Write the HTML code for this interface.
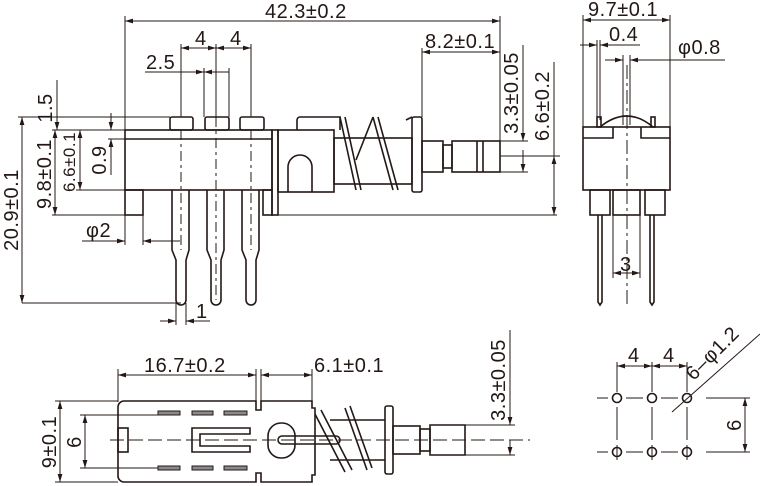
<!DOCTYPE html>
<html><head><meta charset="utf-8"><style>
html,body{margin:0;padding:0;background:#fff;}
svg{display:block;}
text{font-family:"Liberation Sans",sans-serif;font-size:20px;fill:#231815;letter-spacing:0.5px;}
</style></head><body>
<svg width="760" height="486" viewBox="0 0 760 486" xmlns="http://www.w3.org/2000/svg">
<defs>
<marker id="a" viewBox="0 0 10 6" refX="10" refY="3" markerWidth="8" markerHeight="5" orient="auto-start-reverse" markerUnits="userSpaceOnUse"><path d="M0,0L10,3L0,6z" fill="#231815"/></marker>
</defs>
<g stroke="#231815" fill="none" stroke-width="1">
<line x1="125" y1="21" x2="500" y2="21" marker-start="url(#a)" marker-end="url(#a)"/>
<line x1="125" y1="16" x2="125" y2="130"/>
<line x1="500" y1="16" x2="500" y2="141"/>
<line x1="181" y1="44" x2="181" y2="117"/><line x1="216" y1="44" x2="216" y2="117"/><line x1="251" y1="44" x2="251" y2="117"/>
<line x1="181" y1="48" x2="216" y2="48" marker-start="url(#a)" marker-end="url(#a)"/>
<line x1="216" y1="48" x2="251" y2="48" marker-start="url(#a)" marker-end="url(#a)"/>
<line x1="204" y1="68" x2="204" y2="117"/><line x1="229" y1="68" x2="229" y2="117"/>
<line x1="145" y1="72" x2="204" y2="72" marker-end="url(#a)"/>
<line x1="204" y1="72" x2="229" y2="72" marker-start="url(#a)"/>
<line x1="18" y1="117" x2="170" y2="117"/>
<line x1="52" y1="130" x2="125" y2="130"/>
<line x1="57" y1="80" x2="57" y2="130" marker-end="url(#a)"/>
<line x1="111" y1="113" x2="111" y2="130" marker-end="url(#a)"/>
<line x1="111" y1="139" x2="111" y2="175" marker-start="url(#a)"/>
<line x1="108" y1="139" x2="125" y2="139"/>
<line x1="22" y1="117" x2="22" y2="303" marker-start="url(#a)" marker-end="url(#a)"/>
<line x1="55" y1="130" x2="55" y2="215" marker-start="url(#a)" marker-end="url(#a)"/>
<line x1="80" y1="130" x2="80" y2="190" marker-start="url(#a)" marker-end="url(#a)"/>
<line x1="76" y1="190" x2="125" y2="190"/>
<line x1="52" y1="215" x2="125" y2="215"/>
<line x1="272" y1="215" x2="557" y2="215"/>
<line x1="22" y1="303" x2="181" y2="303"/>
<line x1="143" y1="215" x2="143" y2="245"/><line x1="125" y1="215" x2="125" y2="245"/>
<line x1="82" y1="241" x2="125" y2="241" marker-end="url(#a)"/>
<line x1="143" y1="241" x2="180" y2="241" marker-start="url(#a)"/>
<line x1="176" y1="303" x2="176" y2="325"/><line x1="186" y1="303" x2="186" y2="325"/>
<line x1="160" y1="321" x2="176" y2="321" marker-end="url(#a)"/>
<line x1="186" y1="321" x2="210" y2="321" marker-start="url(#a)"/>
<g stroke-width="1.6">
<rect x="125" y="130" width="147" height="60"/>
<line x1="125" y1="139" x2="272" y2="139"/>
<rect x="170" y="117" width="23" height="13" rx="2"/>
<rect x="205" y="117" width="24" height="13" rx="2"/>
<rect x="240" y="117" width="24" height="13" rx="2"/>
<rect x="125" y="190" width="18" height="25"/>
<rect x="263" y="190" width="9" height="25"/>
<rect x="272" y="130" width="6" height="85"/>
<rect x="278" y="130" width="56" height="62"/>
<path d="M288,192V167a12,12 0 0 1 24,0V192"/>
<path d="M297,130V120a3,3 0 0 1 3,-3H340V130"/>
<path d="M172,190V250l4,10V300a5,5 0 0 0 10,0V260l3,-10V190"/>
<path d="M207,190V250l4,10V300a5,5 0 0 0 10,0V260l3,-10V190"/>
<path d="M242,190V250l4,10V300a5,5 0 0 0 10,0V260l3,-10V190"/>
<rect x="334" y="138" width="78" height="46"/>
<path d="M340,117L356,190M345,117L361,190M373,117L393,190M378,117L398,190M373,117L356,160M406,120L412,117"/>
<rect x="412" y="117" width="10" height="75" rx="2"/>
<rect x="422" y="141" width="21" height="31"/>
<rect x="443" y="145" width="9" height="23"/>
<rect x="452" y="141" width="48" height="31"/>
<line x1="477" y1="141" x2="477" y2="172"/><line x1="483" y1="141" x2="483" y2="172"/>
</g>
<g stroke-dasharray="10,4,3,4"><line x1="181" y1="130" x2="181" y2="250"/><line x1="216" y1="117" x2="216" y2="300"/><line x1="251" y1="130" x2="251" y2="250"/></g>
<line x1="422" y1="48" x2="422" y2="117"/>
<line x1="422" y1="52" x2="500" y2="52" marker-start="url(#a)" marker-end="url(#a)"/>
<line x1="500" y1="141" x2="528" y2="141"/><line x1="500" y1="172" x2="528" y2="172"/>
<line x1="523" y1="45" x2="523" y2="141" marker-end="url(#a)"/>
<line x1="523" y1="150" x2="523" y2="172" marker-end="url(#a)"/>
<line x1="500" y1="156" x2="560" y2="156"/>
<line x1="554" y1="62" x2="554" y2="156"/>
<line x1="554" y1="156" x2="554" y2="215" marker-start="url(#a)" marker-end="url(#a)"/>
<line x1="583" y1="15" x2="583" y2="127"/><line x1="670" y1="15" x2="670" y2="127"/>
<line x1="583" y1="20" x2="670" y2="20" marker-start="url(#a)" marker-end="url(#a)"/>
<line x1="597" y1="40" x2="597" y2="120"/><line x1="600" y1="40" x2="600" y2="120"/>
<line x1="580" y1="45" x2="597" y2="45" marker-end="url(#a)"/>
<line x1="600" y1="45" x2="640" y2="45" marker-start="url(#a)"/>
<line x1="623" y1="55" x2="623" y2="125"/><line x1="630" y1="55" x2="630" y2="125"/>
<line x1="605" y1="60" x2="623" y2="60" marker-end="url(#a)"/>
<line x1="630" y1="60" x2="725" y2="60" marker-start="url(#a)"/>
<g stroke-width="1.6">
<rect x="583" y="127" width="87" height="63"/>
<path d="M583,138H613V127M670,138H641V127"/>
<path d="M600,127Q627,105 653,127"/>
<rect x="597" y="117" width="4" height="10"/><rect x="651" y="117" width="4" height="10"/>
<rect x="590" y="190" width="20" height="25"/>
<rect x="613" y="190" width="27" height="25"/>
<rect x="645" y="190" width="20" height="25"/>
<path d="M598,215V302l2,3l2,-3V215M650,215V302l2,3l2,-3V215"/>
</g>
<line x1="627" y1="65" x2="627" y2="305" stroke-dasharray="14,4,3,4"/>
<line x1="613" y1="215" x2="613" y2="278"/><line x1="640" y1="215" x2="640" y2="278"/>
<line x1="613" y1="273" x2="640" y2="273" marker-start="url(#a)" marker-end="url(#a)"/>
<line x1="118" y1="369" x2="118" y2="402"/><line x1="256" y1="369" x2="256" y2="410"/><line x1="261" y1="369" x2="261" y2="410"/><line x1="312" y1="369" x2="312" y2="402"/>
<line x1="118" y1="375" x2="256" y2="375" marker-start="url(#a)" marker-end="url(#a)"/>
<line x1="261" y1="375" x2="312" y2="375" marker-start="url(#a)" marker-end="url(#a)"/>
<line x1="55" y1="401" x2="118" y2="401"/><line x1="55" y1="482" x2="118" y2="482"/>
<line x1="80" y1="415" x2="180" y2="415"/><line x1="80" y1="468" x2="180" y2="468"/>
<line x1="60" y1="401" x2="60" y2="482" marker-start="url(#a)" marker-end="url(#a)"/>
<line x1="85" y1="415" x2="85" y2="468" marker-start="url(#a)" marker-end="url(#a)"/>
<line x1="465" y1="425" x2="515" y2="425"/><line x1="465" y1="455" x2="515" y2="455"/>
<line x1="510" y1="330" x2="510" y2="425" marker-end="url(#a)"/>
<line x1="510" y1="440" x2="510" y2="455" marker-end="url(#a)"/>
<g stroke-width="1.6">
<path d="M124,401H256V410H261V401H312V408H315V475H312V482H261V473H256V482H124a6,6 0 0 1 -6,-6V407a6,6 0 0 1 6,-6z"/>
<rect x="118" y="428" width="10" height="24"/>
<path d="M250,428H192V452H250V446H200V434H250z"/>
<rect x="268" y="423" width="27" height="35" rx="13"/>
<rect x="278" y="436" width="62" height="8" rx="4"/>
<path d="M315,414L345,472M321,410L352,470M345,408L367,470M350,406L372,468M330,420H385M330,460H385"/>
<rect x="385" y="406" width="8" height="68" rx="2"/>
<rect x="393" y="426" width="27" height="28"/>
<rect x="420" y="429" width="10" height="22"/>
<path d="M430,425H465V455H430z"/>
</g>
<g fill="#8a8a8a" stroke-width="1">
<rect x="158" y="411" width="22" height="4"/><rect x="192" y="411" width="21" height="4"/><rect x="224" y="411" width="23" height="4"/>
<rect x="158" y="466" width="22" height="4"/><rect x="192" y="466" width="21" height="4"/><rect x="224" y="466" width="23" height="4"/>
</g>
<line x1="110" y1="440" x2="530" y2="440" stroke-dasharray="14,5"/>
<line x1="617" y1="362" x2="617" y2="392"/><line x1="652" y1="362" x2="652" y2="392"/><line x1="687" y1="362" x2="687" y2="392"/>
<line x1="617" y1="366" x2="652" y2="366" marker-start="url(#a)" marker-end="url(#a)"/>
<line x1="652" y1="366" x2="687" y2="366" marker-start="url(#a)" marker-end="url(#a)"/>
<g stroke-width="1.6"><circle cx="617" cy="398" r="4.5"/><circle cx="652" cy="398" r="4.5"/><circle cx="687" cy="398" r="4.5"/>
<circle cx="617" cy="452" r="4.5"/><circle cx="652" cy="452" r="4.5"/><circle cx="687" cy="452" r="4.5"/></g>
<path d="M597,398H608M626,398H643M661,398H678M706,398H750M597,452H608M626,452H643M661,452H678M706,452H750M617,407V440M652,407V440M687,407V440M617,445V460M652,445V460M687,445V460"/>
<line x1="745" y1="398" x2="745" y2="452" marker-start="url(#a)" marker-end="url(#a)"/>
<line x1="672" y1="412" x2="760" y2="334"/>
</g>
<text x="265" y="18">42.3±0.2</text>
<text x="195" y="45">4</text><text x="230" y="45">4</text>
<text x="146" y="69">2.5</text>
<text x="425" y="48">8.2±0.1</text>
<text x="588" y="16">9.7±0.1</text>
<text x="609" y="41">0.4</text>
<text x="678" y="54">φ0.8</text>
<text x="86" y="237">φ2</text>
<text x="196" y="318">1</text>
<text x="620" y="271">3</text>
<text x="144" y="372">16.7±0.2</text>
<text x="314" y="372">6.1±0.1</text>
<text x="628" y="362">4</text><text x="663" y="362">4</text>
<text transform="translate(52,108) rotate(-90)" text-anchor="middle">1.5</text>
<text transform="translate(18,210) rotate(-90)" text-anchor="middle">20.9±0.1</text>
<text transform="translate(51,174) rotate(-90)" text-anchor="middle">9.8±0.1</text>
<text transform="translate(75,162) rotate(-90)" text-anchor="middle" style="font-size:17px">6.6±0.1</text>
<text transform="translate(106,160) rotate(-90)" text-anchor="middle">0.9</text>
<text transform="translate(518,93) rotate(-90)" text-anchor="middle">3.3±0.05</text>
<text transform="translate(549,106) rotate(-90)" text-anchor="middle">6.6±0.2</text>
<text transform="translate(56,442) rotate(-90)" text-anchor="middle">9±0.1</text>
<text transform="translate(81,442) rotate(-90)" text-anchor="middle">6</text>
<text transform="translate(505,380) rotate(-90)" text-anchor="middle">3.3±0.05</text>
<text transform="translate(741,425) rotate(-90)" text-anchor="middle">6</text>
<text transform="translate(717,358) rotate(-45)" text-anchor="middle">6–φ1.2</text>
</svg>
</body></html>
